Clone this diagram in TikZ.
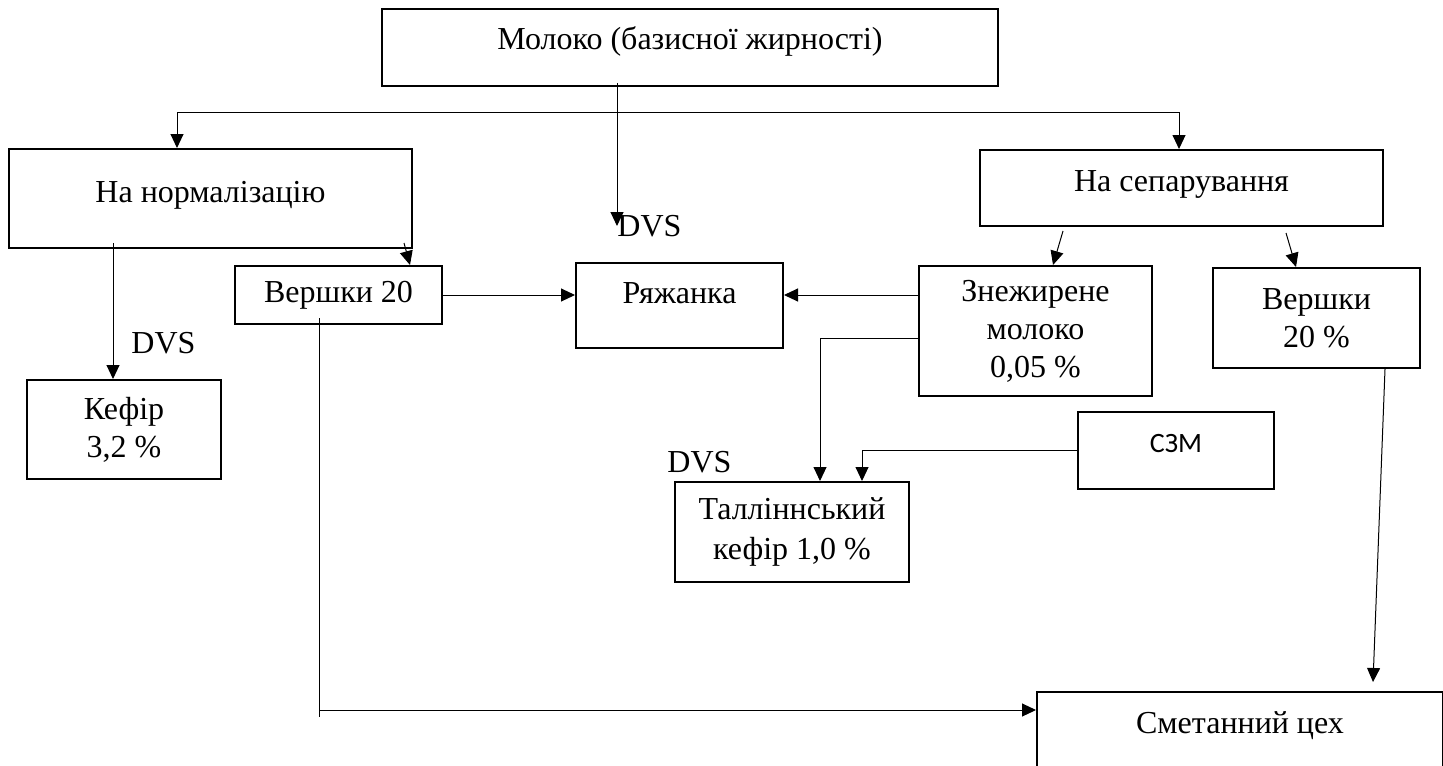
\documentclass[tikz,border=0pt]{standalone}
\usepackage{fontspec}
\setmainfont{Liberation Serif}
\newfontfamily\szmfont{Carlito}
\usetikzlibrary{arrows.meta,calc}

\begin{document}
\begin{tikzpicture}[x=0.5pt,y=-0.5pt,
   box/.style={draw,line width=1pt,inner sep=0pt,align=center,font=\fontsize{16}{19}\selectfont},
   arr/.style={-{Triangle[length=7pt,width=6.5pt]},line width=0.5pt},
   lbl/.style={inner sep=0pt,anchor=west,font=\fontsize{16}{19}\selectfont}]
   \useasboundingbox (0,0) rectangle (1443,765);
   % boxes
   \node[box,minimum width=308pt,minimum height=38.5pt,text depth=9pt] (M) at (690,47.5) {Молоко (базисної жирності)};
   \node[box,minimum width=201.5pt,minimum height=49.5pt,text depth=7pt] (N) at (210.5,198.5) {На нормалізацію};
   \node[box,minimum width=201.5pt,minimum height=38pt,text depth=7pt] (S) at (1181.5,188) {На сепарування};
   \node[box,minimum width=103.5pt,minimum height=29pt] (V20) at (338.5,295) {Вершки 20};
   \node[box,minimum width=103.5pt,minimum height=42.5pt,text depth=12pt] (R) at (679.5,305.5) {Ряжанка};
   \node[box,minimum width=97pt,minimum height=49.5pt] (K) at (124,429.5) {Кефір\\3,2 \%};
   \node[box,minimum width=116.5pt,minimum height=65pt] (Z) at (1035.5,331) {Знежирене\\молоко\\0,05 \%};
   \node[box,minimum width=103.5pt,minimum height=50pt] (V) at (1316.5,318) {Вершки\\20 \%};
   \node[box,minimum width=117pt,minimum height=50pt,font=\fontsize{16}{20}\selectfont] (T) at (792,532) {Талліннський\\кефір 1,0 \%};
   \node[box,minimum width=98pt,minimum height=38.5pt,text depth=7pt,font=\fontsize{14}{17}\szmfont] (C) at (1176,450.5) {СЗМ};
   \node[draw,line width=1pt,inner sep=0pt,anchor=north west,minimum width=203pt,
         text height=20.5pt,text depth=45pt,font=\fontsize{16}{19}\selectfont] (SC) at (1036,691) {Сметанний цех};
   % labels
   \node[lbl] (D1) at (617,226) {DVS};
   \node[lbl] (D2) at (131,343) {DVS};
   \node[lbl] (D3) at (667,462) {DVS};
   \coordinate (brR) at (1179,112);
   \coordinate (brL) at (177,112);
   \coordinate (cr) at (319,710);
   % connectors
   \draw[arr] (brR) -| (N.north -| brL);
   \draw[arr] (brR) -- (S.north -| brR);
   \draw[arr] ($(M.south -| D1.west)+(0,-4)$) -- (D1.west);
   \draw[arr] ($(N.south east)+(-9,-6)$) -- ($(V20.north east)+(-33,0)$);
   \draw[arr] ($(N.south)+(-97.5,-6)$) -- ($(K.north)+(-11,0)$);
   \draw[arr] (V20.east) -- (V20.east -| R.west);
   \draw[arr] (Z.west |- V20.east) -- (R.east |- V20.east);
   \draw[line width=0.5pt] ($(V20.south)+(-19.5,-7)$) -- ($(cr)+(0,7)$);
   \draw[arr] (cr) -- (cr -| SC.west);
   \draw[arr] ($(S.south)+(-118.5,4)$) -- ($(Z.north)+(17.5,0)$);
   \draw[arr] ($(S.south)+(104.5,6)$) -- ($(V.north)+(-20.5,0)$);
   \draw[arr] ($(Z.west)+(0,7)$) -| ($(T.north)+(28,0)$);
   \draw[arr] (C.west) -| ($(T.north)+(70,0)$);
   \draw[arr] ($(V.south east)+(-36,0)$) -- ($(SC.north east)+(-71,-9)$);
\end{tikzpicture}
\end{document}
